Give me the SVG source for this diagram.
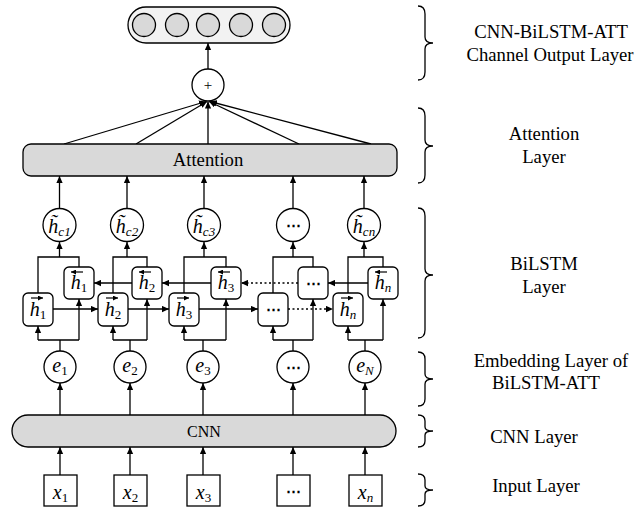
<svg xmlns="http://www.w3.org/2000/svg" width="637" height="507" viewBox="0 0 637 507">
  <style>
    .ln { stroke: #000; stroke-width: 1.3; fill: none; }
    .arr { stroke: #000; stroke-width: 1.3; fill: none; marker-end: url(#ah); }
    .dot { stroke-dasharray: 2 2.5; }
    .node { stroke: #000; stroke-width: 1.3; fill: #fff; }
    .bar { stroke: #000; stroke-width: 1.3; fill: #d9d9d9; }
    .brace { stroke: #000; stroke-width: 1.3; fill: none; }
    text { font-family: "Liberation Serif", "Times New Roman", serif; fill: #000; }
    .lbl { font-size: 18.7px; text-anchor: middle; }
    .sym { font-size: 20px; text-anchor: middle; }
    .it { font-style: italic; }
    .sub { font-size: 13px; }
    .dots { font-family: "DejaVu Serif", serif; font-size: 15px; text-anchor: middle; font-weight: bold; }
    .vec { stroke: #000; stroke-width: 1.2; fill: none; marker-end: url(#vh); }
  </style>
  <defs>
    <marker id="ah" viewBox="0 0 10 10" refX="10" refY="5" markerWidth="7" markerHeight="7" orient="auto" markerUnits="userSpaceOnUse">
      <path d="M0,0.5 L10,5 L0,9.5 z" fill="#000"/>
    </marker>
    <marker id="vh" viewBox="0 0 10 10" refX="10" refY="5" markerWidth="5" markerHeight="5" orient="auto" markerUnits="userSpaceOnUse">
      <path d="M0,0 L10,5 L0,10 z" fill="#000"/>
    </marker>
  </defs>

  <!-- connectors -->
  <g id="connectors">
    <!-- input to CNN -->
    <path class="arr" d="M60,475 V447"/>
    <path class="arr" d="M130,475 V447"/>
    <path class="arr" d="M203,475 V447"/>
    <path class="arr" d="M293,475 V447"/>
    <path class="arr" d="M365,475 V447"/>
    <!-- CNN to embeddings -->
    <path class="arr" d="M60,415 V383"/>
    <path class="arr" d="M130,415 V383"/>
    <path class="arr" d="M203,415 V383"/>
    <path class="arr" d="M293,415 V383"/>
    <path class="arr" d="M365,415 V383"/>
    <!-- embeddings split to forward / backward cells -->
    <path class="ln" d="M60,351 V340 M38,340 H79"/>
    <path class="arr" d="M38,340 V326"/>
    <path class="arr" d="M79,340 V299"/>
    <path class="ln" d="M130,351 V340 M113,340 H147"/>
    <path class="arr" d="M113,340 V326"/>
    <path class="arr" d="M147,340 V299"/>
    <path class="ln" d="M203,351 V340 M184,340 H226"/>
    <path class="arr" d="M184,340 V326"/>
    <path class="arr" d="M226,340 V299"/>
    <path class="ln" d="M293,351 V340 M273,340 H313"/>
    <path class="arr" d="M273,340 V326"/>
    <path class="arr" d="M313,340 V299"/>
    <path class="ln" d="M365,351 V340 M348,340 H383"/>
    <path class="arr" d="M348,340 V326"/>
    <path class="arr" d="M383,340 V299"/>
    <!-- forward chain -->
    <path class="arr" d="M53,309 H98"/>
    <path class="arr" d="M128,309 H169"/>
    <path class="arr" d="M199,309 H258"/>
    <path class="arr dot" d="M288,309 H333"/>
    <!-- backward chain -->
    <path class="arr" d="M132,283 H94"/>
    <path class="arr" d="M211,283 H162"/>
    <path class="arr dot" d="M298,283 H241"/>
    <path class="arr" d="M368,283 H328"/>
    <!-- cells merge into hidden outputs -->
    <path class="ln" d="M38,293 V257 H79 V267"/>
    <path class="arr" d="M59.5,257 V242"/>
    <path class="ln" d="M113,293 V257 H147 V267"/>
    <path class="arr" d="M127,257 V242"/>
    <path class="ln" d="M184,293 V257 H226 V267"/>
    <path class="arr" d="M204,257 V242"/>
    <path class="ln" d="M273,293 V257 H313 V267"/>
    <path class="arr" d="M293,257 V242"/>
    <path class="ln" d="M348,293 V257 H383 V267"/>
    <path class="arr" d="M364,257 V242"/>
    <!-- hidden outputs to attention -->
    <path class="arr" d="M59.5,208.5 V176"/>
    <path class="arr" d="M127,208.5 V176"/>
    <path class="arr" d="M204,208.5 V176"/>
    <path class="arr" d="M293,208.5 V176"/>
    <path class="arr" d="M364,208.5 V176"/>
    <!-- attention to sum -->
    <path class="arr" d="M64,144 L206,101.5"/>
    <path class="arr" d="M136,144 L207,101.5"/>
    <path class="arr" d="M208,144 V101.5"/>
    <path class="arr" d="M299,144 L209,101.5"/>
    <path class="arr" d="M371,144 L210,101.5"/>
    <!-- sum to output -->
    <path class="arr" d="M208,69 V43"/>
  </g>

  <!-- output layer -->
  <g id="output">
    <rect x="128" y="7" width="162" height="36" rx="18" fill="#f2f2f2" stroke="#000" stroke-width="1.3"/>
    <circle cx="144" cy="25" r="11.5" class="bar"/>
    <circle cx="177" cy="25" r="11.5" class="bar"/>
    <circle cx="208" cy="25" r="11.5" class="bar"/>
    <circle cx="241" cy="25" r="11.5" class="bar"/>
    <circle cx="274" cy="25" r="11.5" class="bar"/>
  </g>

  <g id="sum">
    <circle cx="208" cy="85" r="16" class="node"/>
    <text x="208" y="90" style="font-size:15px;text-anchor:middle">+</text>
  </g>

  <g id="attention">
    <rect x="23" y="144" width="374" height="32" rx="8" class="bar"/>
    <text x="208" y="166" class="lbl">Attention</text>
  </g>

  <!-- hidden outputs: h with tilde and subscript -->
  <g id="hc1">
    <circle cx="59.5" cy="225" r="16.5" class="node"/>
    <text x="59.5" y="233" class="sym"><tspan class="it">h̃</tspan><tspan class="sub it" dy="3">c1</tspan></text>
  </g>
  <g id="hc2">
    <circle cx="127" cy="225" r="16.5" class="node"/>
    <text x="127" y="233" class="sym"><tspan class="it">h̃</tspan><tspan class="sub it" dy="3">c2</tspan></text>
  </g>
  <g id="hc3">
    <circle cx="204" cy="225" r="16.5" class="node"/>
    <text x="204" y="233" class="sym"><tspan class="it">h̃</tspan><tspan class="sub it" dy="3">c3</tspan></text>
  </g>
  <g id="hc4">
    <circle cx="293" cy="225" r="16.5" class="node"/>
    <text x="293" y="230" class="dots">⋯</text>
  </g>
  <g id="hcn">
    <circle cx="364" cy="225" r="16.5" class="node"/>
    <text x="364" y="233" class="sym"><tspan class="it">h̃</tspan><tspan class="sub it" dy="3">cn</tspan></text>
  </g>

  <!-- backward cells -->
  <g id="b1">
    <rect x="64" y="267" width="30" height="32" rx="5" class="node"/>
    <path class="vec" d="M83,272 H71"/>
    <text x="79" y="289" class="sym"><tspan class="it">h</tspan><tspan class="sub" dy="3">1</tspan></text>
  </g>
  <g id="b2">
    <rect x="132" y="267" width="30" height="32" rx="5" class="node"/>
    <path class="vec" d="M151,272 H139"/>
    <text x="147" y="289" class="sym"><tspan class="it">h</tspan><tspan class="sub" dy="3">2</tspan></text>
  </g>
  <g id="b3">
    <rect x="211" y="267" width="30" height="32" rx="5" class="node"/>
    <path class="vec" d="M230,272 H218"/>
    <text x="226" y="289" class="sym"><tspan class="it">h</tspan><tspan class="sub" dy="3">3</tspan></text>
  </g>
  <g id="b4">
    <rect x="298" y="267" width="30" height="32" rx="5" class="node"/>
    <text x="313" y="288" class="dots">⋯</text>
  </g>
  <g id="bn">
    <rect x="368" y="267" width="30" height="32" rx="5" class="node"/>
    <path class="vec" d="M387,272 H375"/>
    <text x="383" y="289" class="sym"><tspan class="it">h</tspan><tspan class="sub it" dy="3">n</tspan></text>
  </g>

  <!-- forward cells -->
  <g id="f1">
    <rect x="23" y="293" width="30" height="33" rx="5" class="node"/>
    <path class="vec" d="M31,298 H43"/>
    <text x="38" y="316" class="sym"><tspan class="it">h</tspan><tspan class="sub" dy="3">1</tspan></text>
  </g>
  <g id="f2">
    <rect x="98" y="293" width="30" height="33" rx="5" class="node"/>
    <path class="vec" d="M106,298 H118"/>
    <text x="113" y="316" class="sym"><tspan class="it">h</tspan><tspan class="sub" dy="3">2</tspan></text>
  </g>
  <g id="f3">
    <rect x="169" y="293" width="30" height="33" rx="5" class="node"/>
    <path class="vec" d="M177,298 H189"/>
    <text x="184" y="316" class="sym"><tspan class="it">h</tspan><tspan class="sub" dy="3">3</tspan></text>
  </g>
  <g id="f4">
    <rect x="258" y="293" width="30" height="33" rx="5" class="node"/>
    <text x="273" y="314" class="dots">⋯</text>
  </g>
  <g id="fn">
    <rect x="333" y="293" width="30" height="33" rx="5" class="node"/>
    <path class="vec" d="M341,298 H353"/>
    <text x="348" y="316" class="sym"><tspan class="it">h</tspan><tspan class="sub it" dy="3">n</tspan></text>
  </g>

  <!-- embeddings -->
  <g id="e1">
    <circle cx="60" cy="367" r="16" class="node"/>
    <text x="60" y="372" class="sym"><tspan class="it">e</tspan><tspan class="sub" dy="3">1</tspan></text>
  </g>
  <g id="e2">
    <circle cx="130" cy="367" r="16" class="node"/>
    <text x="130" y="372" class="sym"><tspan class="it">e</tspan><tspan class="sub" dy="3">2</tspan></text>
  </g>
  <g id="e3">
    <circle cx="203" cy="367" r="16" class="node"/>
    <text x="203" y="372" class="sym"><tspan class="it">e</tspan><tspan class="sub" dy="3">3</tspan></text>
  </g>
  <g id="e4">
    <circle cx="293" cy="367" r="16" class="node"/>
    <text x="293" y="372" class="dots">⋯</text>
  </g>
  <g id="eN">
    <circle cx="365" cy="367" r="16" class="node"/>
    <text x="365" y="372" class="sym"><tspan class="it">e</tspan><tspan class="sub it" dy="3">N</tspan></text>
  </g>

  <g id="cnn">
    <rect x="12" y="415" width="384" height="32" rx="16" class="bar"/>
    <text x="204" y="437" style="font-size:16px;text-anchor:middle">CNN</text>
  </g>

  <!-- inputs -->
  <g id="x1">
    <rect x="44" y="475" width="33" height="31" class="node"/>
    <text x="60.5" y="499" class="sym"><tspan class="it">x</tspan><tspan class="sub" dy="3">1</tspan></text>
  </g>
  <g id="x2">
    <rect x="114" y="475" width="33" height="31" class="node"/>
    <text x="130.5" y="499" class="sym"><tspan class="it">x</tspan><tspan class="sub" dy="3">2</tspan></text>
  </g>
  <g id="x3">
    <rect x="187" y="475" width="33" height="31" class="node"/>
    <text x="203.5" y="499" class="sym"><tspan class="it">x</tspan><tspan class="sub" dy="3">3</tspan></text>
  </g>
  <g id="x4">
    <rect x="277" y="475" width="33" height="31" class="node"/>
    <text x="293.5" y="496" class="dots">⋯</text>
  </g>
  <g id="xn">
    <rect x="349" y="475" width="33" height="31" class="node"/>
    <text x="365.5" y="499" class="sym"><tspan class="it">x</tspan><tspan class="sub it" dy="3">n</tspan></text>
  </g>

  <!-- layer braces and names -->
  <g id="layers">
    <path class="brace" d="M418,6 Q425,6 425,14 L425,37 Q425,43 433,43 Q425,43 425,49 L425,72 Q425,80 418,80"/>
    <path class="brace" d="M418,108 Q425,108 425,116 L425,140 Q425,146 433,146 Q425,146 425,152 L425,175 Q425,183 418,183"/>
    <path class="brace" d="M418,208 Q425,208 425,216 L425,269 Q425,275 433,275 Q425,275 425,281 L425,330 Q425,338 418,338"/>
    <path class="brace" d="M418,352 Q425,352 425,359 L425,374 Q425,379 433,379 Q425,379 425,384 L425,399 Q425,406 418,406"/>
    <path class="brace" d="M418,415 Q425,415 425,421 L425,427 Q425,431 433,431 Q425,431 425,435 L425,441 Q425,447 418,447"/>
    <path class="brace" d="M418,474 Q425,474 425,480 L425,486 Q425,490 433,490 Q425,490 425,494 L425,500 Q425,506 418,506"/>
    <text x="551" y="38" class="lbl">CNN-BiLSTM-ATT</text>
    <text x="550" y="61" class="lbl">Channel Output Layer</text>
    <text x="544" y="140" class="lbl">Attention</text>
    <text x="544" y="163" class="lbl">Layer</text>
    <text x="544" y="270" class="lbl">BiLSTM</text>
    <text x="544" y="293" class="lbl">Layer</text>
    <text x="551" y="367" class="lbl">Embedding Layer of</text>
    <text x="546" y="389" class="lbl">BiLSTM-ATT</text>
    <text x="534" y="443" class="lbl">CNN Layer</text>
    <text x="536" y="492" class="lbl">Input Layer</text>
  </g>
</svg>
